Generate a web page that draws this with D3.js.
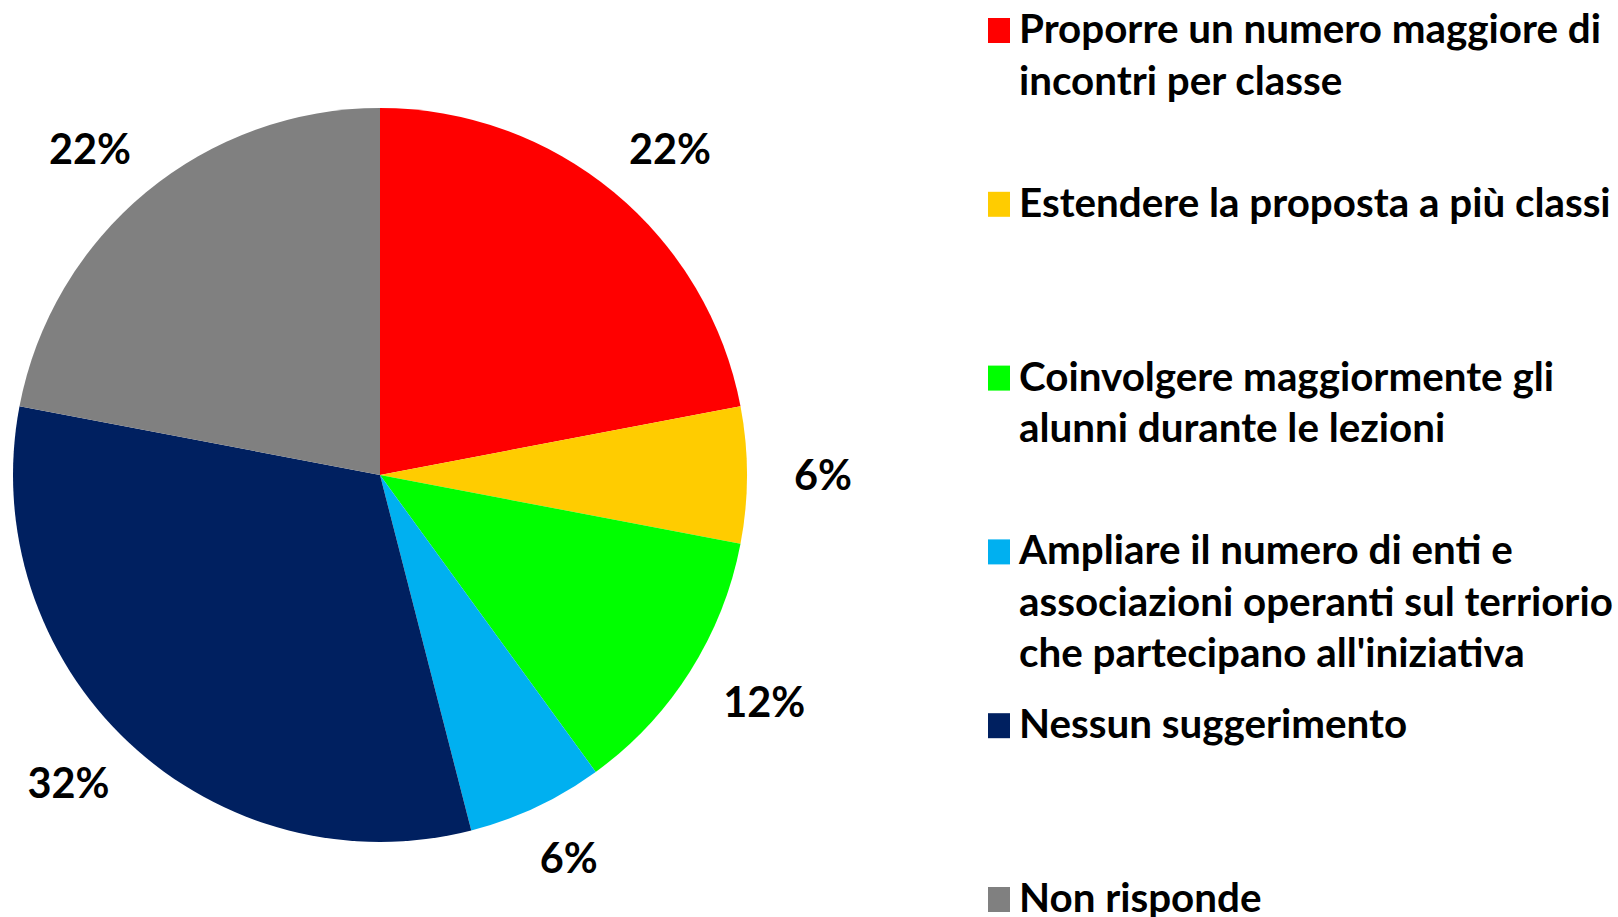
<!DOCTYPE html>
<html><head><meta charset="utf-8">
<script src="https://cdn.jsdelivr.net/npm/d3@7"></script>
<style>html,body{margin:0;padding:0;background:#fff;overflow:hidden}</style>
</head><body>
<svg id="chart" width="1618" height="917"></svg>
<script>
const categories = [
  "Proporre un numero maggiore di|incontri per classe",
  "Estendere la proposta a più classi",
  "Coinvolgere maggiormente gli|alunni durante le lezioni",
  "Ampliare il numero di enti e|associazioni operanti sul terriorio|che partecipano all'iniziativa",
  "Nessun suggerimento",
  "Non risponde"
];
const values = [22, 6, 12, 6, 32, 22];
const labels = ["22%", "6%", "12%", "6%", "32%", "22%"];
const colors = ["#FF0000", "#FFCC00", "#00FF00", "#00B0F0", "#002060", "#808080"];

const svg = d3.select("#chart");
const cx = 380, cy = 475, R = 367;
const FONT = "Lato, 'Open Sans', sans-serif";

const pie = d3.pie().sort(null).value(d => d);
const arcs = pie(values);
const arc = d3.arc().innerRadius(0).outerRadius(R);

const g = svg.append("g").attr("transform", `translate(${cx},${cy})`);
g.selectAll("path.slice").data(arcs).enter().append("path")
  .attr("class", "slice")
  .attr("d", arc)
  .attr("fill", (d, i) => colors[i]);

// data labels (outside end)
const lblSize = 42;
const lbl = g.selectAll("text.lbl").data(arcs).enter().append("text")
  .attr("class", "lbl")
  .attr("font-family", FONT).attr("font-weight", 700)
  .attr("font-size", lblSize).attr("fill", "#000")
  .attr("text-anchor", "middle")
  .text((d, i) => labels[i]);
const ref22 = lbl.filter((d, i) => i === 0).node().getComputedTextLength();
const lblFactor = 82 / ref22;
lbl.each(function(d) {
  const t = d3.select(this);
  const w = this.getComputedTextLength() * lblFactor;
  t.attr("textLength", w).attr("lengthAdjust", "spacingAndGlyphs");
  const a = (d.startAngle + d.endAngle) / 2;
  const dx = Math.sin(a), dy = -Math.cos(a);
  const gap = 36, padX = 11, halfH = 20;
  const x = dx * (R + gap) + dx * (w / 2 + padX);
  const y = dy * (R + gap) + dy * halfH;
  t.attr("x", x).attr("y", y + 15);
});

// legend
const legX = 988, legY0 = 43, legStep = 173.8, lineH = 51.5, legSize = 40;
const items = svg.append("g").selectAll("g.item").data(categories).enter().append("g")
  .attr("class", "item")
  .attr("transform", (d, i) => `translate(${legX},${legY0 + i * legStep})`);
items.append("rect")
  .attr("x", 0).attr("y", -25).attr("width", 22).attr("height", 25)
  .attr("fill", (d, i) => colors[i]);
const txt = items.append("text")
  .attr("font-family", FONT).attr("font-weight", 700)
  .attr("font-size", legSize).attr("fill", "#000");
txt.each(function(d) {
  const t = d3.select(this);
  d.split("|").forEach((line, j) => {
    t.append("tspan").attr("x", 31).attr("y", j * lineH).text(line);
  });
});
const firstLine = txt.filter((d, i) => i === 0).select("tspan").node();
const legFactor = 582 / firstLine.getComputedTextLength();
txt.selectAll("tspan").each(function() {
  const w = this.getComputedTextLength() * legFactor;
  d3.select(this).attr("textLength", w).attr("lengthAdjust", "spacingAndGlyphs");
});
</script>
</body></html>
